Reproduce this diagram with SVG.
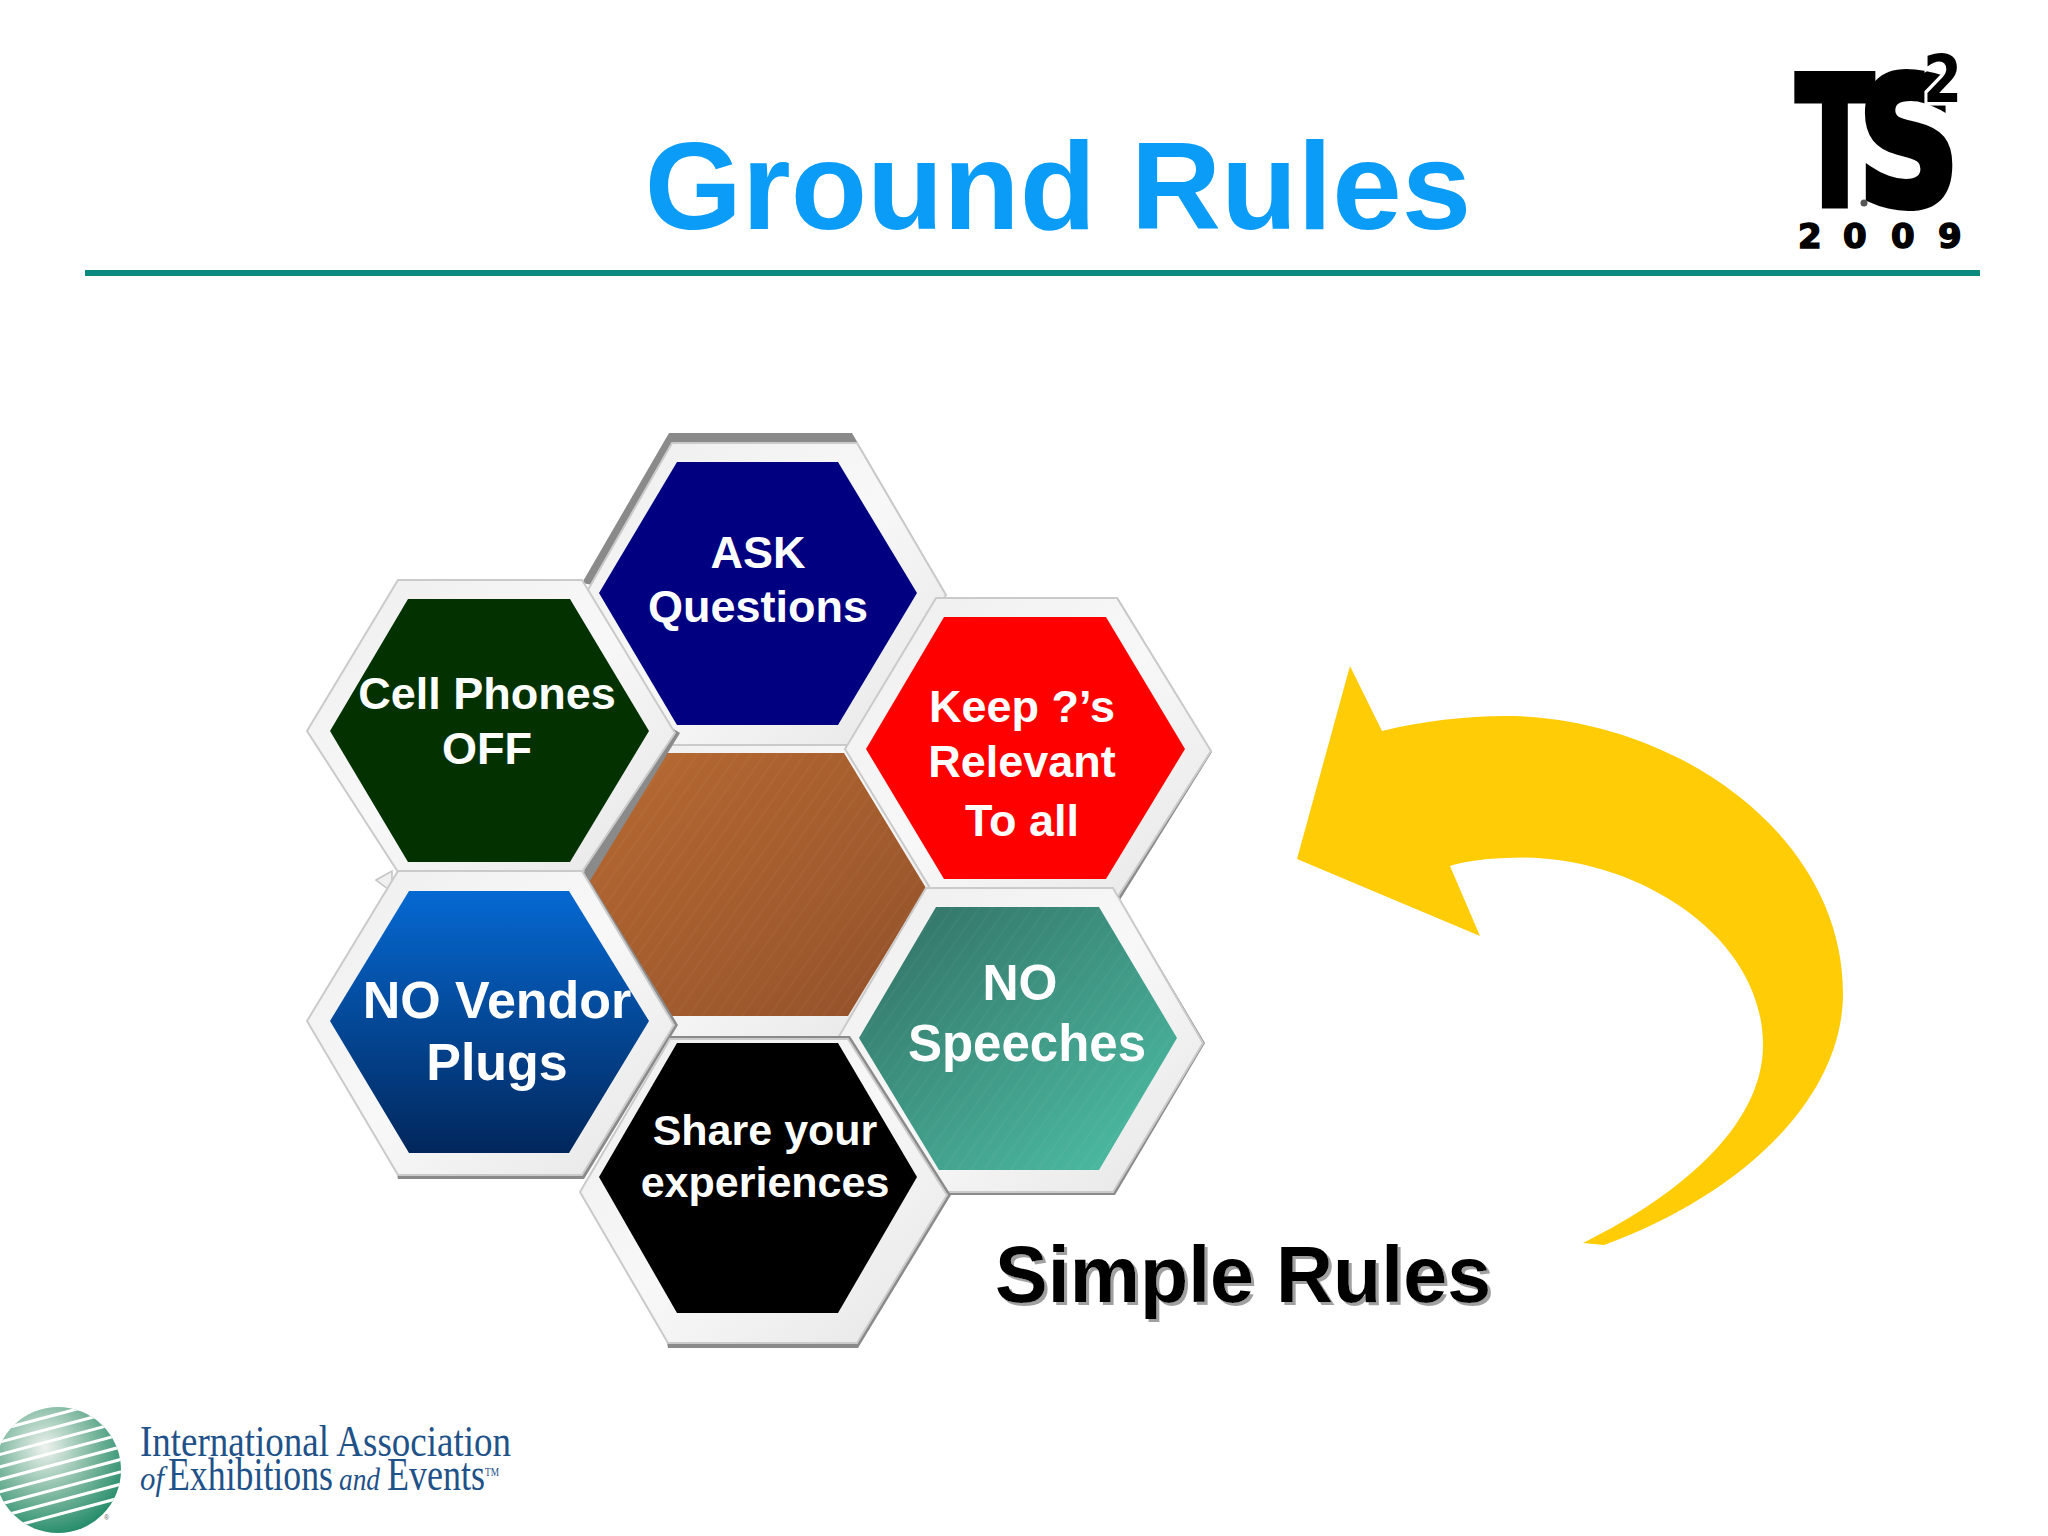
<svg xmlns="http://www.w3.org/2000/svg" width="2048" height="1536" viewBox="0 0 2048 1536">
<style>
.l{font-family:"Liberation Sans",Arial,sans-serif;font-weight:700;fill:#fff;text-anchor:middle}
.f{fill:url(#frame);stroke:#cacaca;stroke-width:2}
.s{fill:#8a8a8a}
.logo{font-family:"DejaVu Sans",sans-serif;font-weight:700;fill:#000;stroke:#000}
.ia{font-family:"Liberation Serif","Times New Roman",serif;fill:#1f5288}
</style>
<defs>
<linearGradient id="frame" x1="0" y1="0" x2="1" y2="1"><stop offset="0" stop-color="#eeeeee"/><stop offset=".5" stop-color="#f8f8f8"/><stop offset="1" stop-color="#e6e6e6"/></linearGradient>
<linearGradient id="brown" x1="0" y1="0" x2="1" y2="1"><stop offset="0" stop-color="#b86a32"/><stop offset="1" stop-color="#92512a"/></linearGradient>
<linearGradient id="teal" x1=".1" y1=".1" x2=".85" y2=".95"><stop offset="0" stop-color="#34776a"/><stop offset="1" stop-color="#4bb9a0"/></linearGradient>
<linearGradient id="blue" x1="0" y1="0" x2="0" y2="1"><stop offset="0" stop-color="#0569d2"/><stop offset="1" stop-color="#02275c"/></linearGradient>
<radialGradient id="globe" gradientUnits="userSpaceOnUse" cx="45" cy="1448" r="105"><stop offset="0" stop-color="#eef2ee"/><stop offset=".45" stop-color="#7fb9a0"/><stop offset="1" stop-color="#007a55"/></radialGradient>
<pattern id="hatch" width="11" height="11" patternUnits="userSpaceOnUse" patternTransform="rotate(-55)"><path d="M0 3H11" stroke="#fff" stroke-width=".8" opacity=".08"/></pattern>
<clipPath id="gc"><circle cx="58" cy="1470" r="63"/></clipPath>
<filter id="ds" x="-5%" y="-10%" width="110%" height="125%"><feDropShadow dx="3" dy="3" stdDeviation="0.4" flood-color="#a0a0a0"/></filter>
</defs>
<rect width="2048" height="1536" fill="#fff"/>
<text id="title" x="1058" y="229" font-family="Liberation Sans, Arial, sans-serif" font-weight="700" font-size="125" fill="#0a9cf6" text-anchor="middle">Ground Rules</text>
<rect id="rule" x="85" y="270" width="1895" height="6" fill="#0b8a80"/>
<g id="logo-ts">
<text class="logo" transform="translate(1796 205) scale(.64 1)" font-size="178" stroke-width="7">T</text>
<ellipse cx="1912" cy="106" rx="46" ry="36" fill="#fff"/>
<text class="logo" transform="translate(1858 205) scale(.8 1)" font-size="176" stroke-width="8">S</text>
<circle cx="1864" cy="203" r="3.5" fill="#555"/>
<text class="logo" transform="translate(1923 102) scale(.85 1)" font-size="66" style="stroke:#fff;stroke-width:7;paint-order:stroke">2</text>
<text class="logo" x="1798 1843 1891 1938" y="248" font-size="34" stroke-width="1.5">2009</text>
</g>
<g id="hex-center">
<polygon class="s" points="586,1017 668,1040 848,1040 930,890 668,760"/>
<polygon class="f" points="664,745 846,745 930,888 848,1037 668,1037 582,890"/>
<polygon points="664,753 844,753 926,888 848,1016 668,1016 586,878" fill="url(#brown)"/>
<polygon points="664,753 844,753 926,888 848,1016 668,1016 586,878" fill="url(#hatch)"/>
</g>
<g id="hex-ask">
<polygon class="s" points="669,433 852,433 945,592 670,600 582,583"/>
<polygon class="f" points="672,443 857,443 946,595 857,745 668,745 585,595"/>
<polygon points="677,462 838,462 917,593 838,725 677,725 599,593" fill="#000080"/>
<text class="l" x="758" y="568" font-size="45">ASK</text>
<text class="l" x="758" y="622" font-size="45">Questions</text>
</g>
<g id="hex-cell">
<polygon points="680,733 588,884 584,870 672,728" fill="#8a8a8a"/>
<polygon class="f" points="398,580 582,580 675,733 582,872 398,872 307,731"/>
<polygon points="408,599 570,599 649,731 570,862 408,862 330,731" fill="#033200"/>
<text class="l" x="487" y="709" font-size="45">Cell Phones</text>
<text class="l" x="487" y="764" font-size="45">OFF</text>
</g>
<g id="hex-keep">
<polygon class="s" points="1118,598 1212,752 1118,903 1100,880"/>
<polygon class="f" points="936,598 1117,598 1211,751 1115,901 938,901 845,749"/>
<polygon points="944,617 1106,617 1185,749 1106,879 944,879 866,749" fill="#f00"/>
<text class="l" x="1022" y="722" font-size="45">Keep ?’s</text>
<text class="l" x="1022" y="777" font-size="45">Relevant</text>
<text class="l" x="1022" y="836" font-size="45">To all</text>
</g>
<g id="hex-teal">
<polygon class="s" points="1113,888 1205,1043 1115,1195 946,1195 946,1185"/>
<polygon class="f" points="926,888 1113,888 1203,1043 1113,1192 946,1192 838,1038"/>
<polygon points="936,907 1099,907 1177,1038 1099,1170 939,1170 859,1038" fill="url(#teal)"/>
<polygon points="936,907 1099,907 1177,1038 1099,1170 939,1170 859,1038" fill="url(#hatch)"/>
<text class="l" x="1020" y="1000" font-size="50">NO</text>
<text class="l" x="1027" y="1061" font-size="51">Speeches</text>
</g>
<g id="hex-blue">
<polygon points="376,880 392,871 392,892" fill="#f0f0f0" stroke="#c4c4c4" stroke-width="1.5"/>
<polygon class="s" points="584,871 678,1025 584,1179 398,1179 396,1170"/>
<polygon class="f" points="398,871 582,871 674,1025 582,1175 398,1175 307,1021"/>
<polygon points="409,891 569,891 649,1021 569,1153 409,1153 330,1021" fill="url(#blue)"/>
<text class="l" x="497" y="1018" font-size="52">NO Vendor</text>
<text class="l" x="497" y="1080" font-size="52">Plugs</text>
</g>
<g id="hex-share">
<polygon class="s" points="670,1036 850,1036 951,1195 858,1348 668,1348 640,1200"/>
<polygon class="f" points="670,1039 848,1039 947,1195 857,1343 668,1343 580,1192"/>
<polygon points="677,1043 838,1043 917,1177 838,1313 677,1313 599,1177" fill="#000"/>
<text class="l" x="765" y="1145" font-size="43">Share your</text>
<text class="l" x="765" y="1197" font-size="43">experiences</text>
</g>
<g id="connectors">
<path id="curved-arrow" fill="#ffcc05" d="M1297 859L1350 666L1382 731C1425 720 1475 715 1515 716C1685 722 1843 840 1843 993C1843 1100 1740 1195 1604 1245L1583 1243C1690 1190 1763 1120 1763 1045C1763 930 1625 850 1505 858C1480 859 1462 862 1450 866L1480 936Z"/>
</g>
<text id="simple-rules" x="995" y="1302" font-family="Liberation Sans, Arial, sans-serif" font-weight="700" font-size="79" fill="#000" filter="url(#ds)">Simple Rules</text>
<g id="logo-iaee">
<circle cx="58" cy="1470" r="63" fill="url(#globe)"/>
<g clip-path="url(#gc)"><path transform="rotate(-15 58 1470)" fill="none" stroke="#fff" stroke-width="3" d="M-20 1416H140M-20 1428H140M-20 1440H140M-20 1452H140M-20 1464H140M-20 1476H140M-20 1488H140M-20 1500H140M-20 1513H140"/></g>
<text x="104" y="1520" font-family="Liberation Sans, Arial, sans-serif" font-size="7" fill="#666">®</text>
<text class="ia" x="140" y="1456" font-size="44" textLength="371" lengthAdjust="spacingAndGlyphs">International Association</text>
<text class="ia" x="140" y="1490" font-size="34" font-style="italic" textLength="24" lengthAdjust="spacingAndGlyphs">of</text>
<text class="ia" x="168" y="1490" font-size="47" textLength="165" lengthAdjust="spacingAndGlyphs">Exhibitions</text>
<text class="ia" x="339" y="1490" font-size="32" font-style="italic" textLength="41" lengthAdjust="spacingAndGlyphs">and</text>
<text class="ia" x="387" y="1490" font-size="47" textLength="98" lengthAdjust="spacingAndGlyphs">Events</text>
<text class="ia" x="485" y="1476" font-size="13" textLength="14" lengthAdjust="spacingAndGlyphs">TM</text>
</g>
</svg>
